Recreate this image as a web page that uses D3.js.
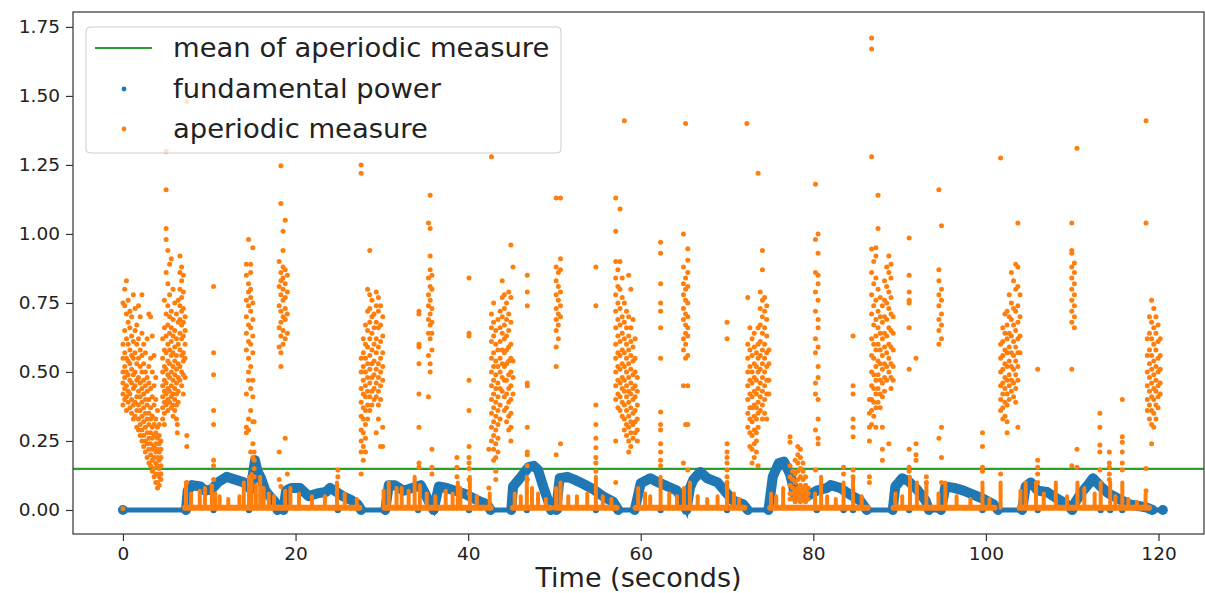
<!DOCTYPE html>
<html>
<head>
<meta charset="utf-8">
<script src="https://cdn.jsdelivr.net/npm/d3@7"></script>
<style>
  body { margin: 0; background: #fff; }
  svg { display: block; font-family: "DejaVu Sans", sans-serif; }
</style>
</head>
<body>
<div id="chart"></div>
<script>
// axis ticks
const xTicks = [0, 20, 40, 60, 80, 100, 120];
const yTicks = [0, 0.25, 0.5, 0.75, 1.0, 1.25, 1.5, 1.75];

// mean of aperiodic measure (green line)
const meanAperiodic = 0.149;

// fundamental power (seconds, value)
const blueT = [0, 7.3, 7.5, 8.0, 9.0, 9.5, 10.3, 11.0, 12.0, 13.0, 14.0, 14.8, 15.3, 15.6, 16.0, 16.5, 17.0, 17.6, 17.9, 18.6,
  18.9, 19.5, 20.5, 21.5, 22.5, 23.5, 24.0, 24.5, 25.5, 26.5, 27.2, 27.6, 30.4, 30.8, 31.5, 32.5, 33.5, 34.5, 35.0, 35.6,
  36.0, 36.6, 37.5, 38.5, 39.5, 41.0, 42.2, 42.6, 45.0, 45.2, 46.0, 47.0, 47.6, 48.1, 48.7, 49.3, 49.6, 50.2, 50.6, 51.5,
  52.3, 53.3, 54.5, 55.7, 56.8, 57.4, 59.3, 60.0, 61.1, 62.0, 63.0, 64.2, 64.9, 65.3, 65.7, 66.1, 66.9, 67.7, 68.9, 69.7,
  70.7, 71.9, 72.4, 74.8, 75.3, 76.0, 76.6, 77.3, 77.9, 79.0, 80.4, 81.6, 82.0, 83.1, 84.3, 85.4, 86.2, 89.2, 89.5, 90.3,
  91.0, 92.0, 93.0, 93.4, 94.8, 95.3, 96.3, 97.4, 98.6, 99.7, 100.9, 101.4, 104.2, 104.6, 105.2, 106.0, 107.1, 108.3, 109.4, 110.0,
  110.4, 111.0, 111.8, 112.4, 113.3, 114.2, 115.4, 116.7, 118.5, 119.3, 120.5];
const blueV = [0, 0, 0.07, 0.09, 0.085, 0.07, 0.075, 0.10, 0.12, 0.11, 0.10, 0.075, 0.18, 0.14, 0.115, 0.07, 0.05, 0.03, 0, 0,
  0.07, 0.08, 0.08, 0.05, 0.06, 0.065, 0.08, 0.07, 0.05, 0.035, 0.02, 0, 0, 0.09, 0.09, 0.07, 0.08, 0.09, 0.06, 0.02,
  0, 0.085, 0.08, 0.07, 0.06, 0.036, 0.02, 0, 0, 0.085, 0.115, 0.155, 0.16, 0.145, 0.085, 0.03, 0, 0, 0.115, 0.12,
  0.11, 0.095, 0.075, 0.048, 0.03, 0, 0, 0.097, 0.115, 0.10, 0.087, 0.07, 0.03, 0, 0.08, 0.11, 0.138, 0.115, 0.10, 0.07,
  0.035, 0.02, 0, 0, 0.12, 0.17, 0.175, 0.13, 0.055, 0.045, 0.07, 0.08, 0.09, 0.08, 0.055, 0.035, 0, 0, 0.085, 0.115,
  0.105, 0.075, 0.035, 0, 0, 0.085, 0.08, 0.07, 0.055, 0.04, 0.02, 0, 0, 0.085, 0.10, 0.07, 0.065, 0.04, 0.02, 0,
  0.03, 0.06, 0.09, 0.115, 0.085, 0.06, 0.04, 0.02, 0.01, 0, 0];

// single samples where fundamental power drops to zero
const blueDropT = [10.5, 14.6, 18.3, 24.9, 34.2, 35.9, 40.1, 46.8, 50.5, 54.8, 62.3, 70.0, 80.4, 83.5,
  84.6, 91.1, 94.7, 99.6, 106.0, 110.1, 113.3, 114.4, 115.8];

// aperiodic measure: near-zero floor where a fundamental exists (start, end)
const orangeFloorV = 0.008;
const orangeFloorSegs = [[7.2, 27.4], [30.3, 42.6], [45.2, 49.5], [50.1, 57.2], [59.4, 72.0],
  [75.0, 86.3], [89.3, 101.0], [103.9, 118.9]];

// short spikes rising from the floor (seconds, top value)
const combT = [7.3, 7.9, 8.9, 9.5, 10.3, 10.7, 11.2, 12.2, 13.5, 14.0, 14.6, 14.9, 15.4, 15.9, 16.3, 16.9, 17.5, 18.8,
  19.4, 20.4, 21.9, 23.4, 24.8, 25.7, 27.1, 30.2, 30.8, 31.7, 32.3, 33.1, 33.8, 34.4, 35.2, 36.2, 37.4, 38.2, 38.8,
  39.1, 40.2, 41.0, 42.5, 45.4, 46.1, 46.8, 47.4, 48.1, 49.0, 50.2, 50.7, 51.6, 52.6, 53.8, 54.8, 55.6, 56.6, 59.7,
  60.5, 61.1, 62.3, 63.3, 64.2, 65.0, 65.7, 66.6, 67.7, 68.9, 70.0, 70.8, 71.4, 75.1, 75.7, 76.5, 80.2, 80.9, 81.6,
  82.6, 83.5, 84.6, 85.6, 89.5, 90.3, 91.2, 92.0, 93.1, 94.5, 95.3, 96.6, 98.2, 99.6, 100.4, 101.7, 104.0, 104.6,
  105.8, 106.7, 108.1, 109.4, 110.6, 111.4, 112.6, 113.3, 114.4, 115.0, 115.8, 116.5, 117.5, 118.5];
const combV = [0.10, 0.06, 0.07, 0.08, 0.09, 0.06, 0.05, 0.04, 0.05, 0.10, 0.12, 0.13, 0.09, 0.12, 0.08, 0.06, 0.05, 0.07,
  0.08, 0.06, 0.05, 0.05, 0.10, 0.06, 0.04, 0.07, 0.10, 0.08, 0.08, 0.07, 0.12, 0.09, 0.06, 0.05, 0.07, 0.06, 0.10,
  0.08, 0.12, 0.05, 0.06, 0.06, 0.05, 0.12, 0.08, 0.06, 0.04, 0.08, 0.10, 0.05, 0.05, 0.06, 0.12, 0.05, 0.04, 0.08,
  0.06, 0.05, 0.12, 0.06, 0.05, 0.08, 0.10, 0.05, 0.04, 0.05, 0.10, 0.06, 0.04, 0.06, 0.05, 0.08, 0.06, 0.12, 0.05,
  0.04, 0.10, 0.12, 0.05, 0.06, 0.05, 0.12, 0.10, 0.10, 0.06, 0.10, 0.05, 0.04, 0.10, 0.04, 0.10, 0.07, 0.10,
  0.10, 0.06, 0.10, 0.05, 0.10, 0.08, 0.06, 0.10, 0.10, 0.05, 0.10, 0.04, 0.03, 0.06];

// aperiodic measure clusters: [seconds, values at that time]
const orangeCols = [
  [0.0, [0.50, 0.46, 0.42, 0.55, 0.60, 0.38, 0.75, 0.005]],
  [0.2, [0.80, 0.74, 0.65, 0.57, 0.52, 0.48, 0.44, 0.40]],
  [0.4, [0.83, 0.71, 0.62, 0.55, 0.50, 0.45, 0.41, 0.36]],
  [0.6, [0.76, 0.68, 0.60, 0.54, 0.49, 0.43, 0.39]],
  [0.8, [0.72, 0.66, 0.58, 0.53, 0.47, 0.42, 0.37]],
  [1.0, [0.70, 0.63, 0.56, 0.51, 0.46, 0.40, 0.35]],
  [1.2, [0.78, 0.61, 0.55, 0.49, 0.44, 0.38, 0.33]],
  [1.4, [0.73, 0.65, 0.57, 0.50, 0.45, 0.39, 0.34]],
  [1.6, [0.67, 0.60, 0.53, 0.47, 0.41, 0.36, 0.30]],
  [1.8, [0.74, 0.62, 0.55, 0.48, 0.43, 0.38, 0.33, 0.29]],
  [2.0, [0.70, 0.58, 0.52, 0.46, 0.41, 0.36, 0.31, 0.27]],
  [2.2, [0.78, 0.64, 0.56, 0.50, 0.44, 0.39, 0.34, 0.29, 0.25]],
  [2.4, [0.60, 0.53, 0.47, 0.42, 0.37, 0.32, 0.27, 0.23]],
  [2.6, [0.57, 0.50, 0.45, 0.40, 0.35, 0.30, 0.25, 0.21]],
  [2.8, [0.62, 0.48, 0.43, 0.38, 0.33, 0.28, 0.24, 0.19]],
  [3.0, [0.71, 0.52, 0.46, 0.40, 0.35, 0.31, 0.26, 0.22, 0.17]],
  [3.2, [0.70, 0.55, 0.44, 0.37, 0.33, 0.28, 0.24, 0.20, 0.16]],
  [3.4, [0.63, 0.50, 0.41, 0.34, 0.30, 0.26, 0.22, 0.18, 0.14]],
  [3.6, [0.56, 0.45, 0.38, 0.31, 0.27, 0.23, 0.19, 0.15, 0.12]],
  [3.8, [0.48, 0.40, 0.33, 0.28, 0.24, 0.21, 0.17, 0.13, 0.10]],
  [4.0, [0.36, 0.30, 0.26, 0.22, 0.19, 0.16, 0.13, 0.10, 0.08]],
  [4.2, [0.31, 0.27, 0.24, 0.21, 0.18, 0.15, 0.12, 0.09]],
  [4.4, [0.25, 0.22, 0.19, 0.16, 0.13, 0.11]],
  [4.6, [0.62, 0.55, 0.50, 0.45, 0.41, 0.37, 0.33]],
  [4.8, [0.76, 0.66, 0.58, 0.52, 0.47, 0.43, 0.39, 0.35, 0.31]],
  [5.0, [1.30, 1.16, 1.02, 0.98, 0.86, 0.71, 0.63, 0.57, 0.51, 0.46, 0.42, 0.38]],
  [5.2, [0.94, 0.82, 0.74, 0.67, 0.60, 0.54, 0.49, 0.44, 0.40, 0.36]],
  [5.4, [0.89, 0.78, 0.70, 0.64, 0.58, 0.53, 0.48, 0.43, 0.39]],
  [5.6, [0.91, 0.72, 0.66, 0.61, 0.56, 0.50, 0.45, 0.41, 0.37]],
  [5.8, [0.80, 0.69, 0.63, 0.57, 0.52, 0.47, 0.42, 0.38, 0.34]],
  [6.0, [0.75, 0.65, 0.59, 0.54, 0.49, 0.44, 0.40, 0.36]],
  [6.2, [0.71, 0.62, 0.56, 0.51, 0.46, 0.42, 0.38, 0.33]],
  [6.3, [0.31, 0.28]],
  [6.4, [0.76, 0.68, 0.60, 0.53, 0.48, 0.43, 0.39]],
  [6.6, [0.92, 0.86, 0.80, 0.74, 0.69, 0.64, 0.58, 0.52, 0.47]],
  [6.8, [0.88, 0.83, 0.77, 0.72, 0.67, 0.62, 0.56, 0.50, 0.45]],
  [7.0, [0.85, 0.79, 0.73, 0.68, 0.63, 0.57, 0.54, 0.49, 0.42]],
  [7.2, [0.70, 0.65, 0.60, 0.55, 0.48]],
  [7.4, [1.48, 0.27, 0.23, 0.10]],
  [10.5, [0.81, 0.57, 0.49, 0.36, 0.31, 0.18, 0.16, 0.11]],
  [14.3, [0.89, 0.85, 0.76, 0.70, 0.64, 0.58, 0.42, 0.30, 0.28]],
  [14.55, [0.98, 0.82, 0.79, 0.74, 0.67, 0.61, 0.55, 0.50, 0.47, 0.33, 0.29]],
  [14.8, [0.89, 0.86, 0.80, 0.77, 0.72, 0.66, 0.60, 0.52, 0.44, 0.36, 0.21]],
  [15.05, [0.95, 0.75, 0.69, 0.63, 0.57, 0.47, 0.41, 0.32, 0.24, 0.19]],
  [15.2, [0.32, 0.21, 0.18, 0.15, 0.12]],
  [18.1, [0.90, 0.81, 0.74, 0.66, 0.59, 0.21, 0.11]],
  [18.3, [1.247, 1.11, 0.86, 0.83, 0.78, 0.72, 0.68, 0.63, 0.57, 0.52, 0.085]],
  [18.55, [1.01, 0.94, 0.88, 0.84, 0.80, 0.76, 0.70, 0.65, 0.60]],
  [18.8, [1.05, 0.87, 0.82, 0.77, 0.73, 0.69, 0.62, 0.26]],
  [19.05, [0.85, 0.79, 0.71, 0.64, 0.13]],
  [24.9, [0.145, 0.12]],
  [27.6, [1.25, 1.22, 0.55, 0.50, 0.44, 0.39, 0.34, 0.29, 0.25, 0.21, 0.13]],
  [27.85, [0.62, 0.57, 0.52, 0.47, 0.42, 0.37, 0.33, 0.28, 0.23, 0.18]],
  [28.1, [0.67, 0.60, 0.55, 0.50, 0.45, 0.41, 0.36, 0.31, 0.26, 0.21]],
  [28.35, [0.80, 0.72, 0.65, 0.59, 0.53, 0.48, 0.43, 0.38, 0.33]],
  [28.6, [0.94, 0.78, 0.73, 0.68, 0.62, 0.56, 0.51, 0.46, 0.41, 0.36]],
  [28.85, [0.76, 0.70, 0.64, 0.58, 0.53, 0.48, 0.43, 0.38]],
  [29.1, [0.71, 0.66, 0.60, 0.54, 0.49, 0.44, 0.40]],
  [29.35, [0.79, 0.74, 0.68, 0.62, 0.57, 0.51, 0.46, 0.41, 0.28]],
  [29.6, [0.77, 0.72, 0.66, 0.59, 0.53, 0.48, 0.43, 0.38, 0.33]],
  [29.85, [0.74, 0.67, 0.61, 0.55, 0.50, 0.45, 0.40, 0.23]],
  [30.1, [0.70, 0.63, 0.57, 0.52, 0.47, 0.30, 0.23]],
  [34.3, [0.72, 0.71, 0.60, 0.59, 0.53, 0.42, 0.30, 0.17, 0.155]],
  [35.4, [1.04, 0.84, 0.78, 0.74, 0.69, 0.64, 0.56, 0.41]],
  [35.6, [1.14, 1.02, 0.92, 0.87, 0.81, 0.76, 0.71, 0.67, 0.62, 0.53, 0.50]],
  [35.8, [0.85, 0.80, 0.73, 0.68, 0.64, 0.58, 0.22, 0.155, 0.13]],
  [38.7, [0.19, 0.155, 0.12]],
  [40.1, [0.84, 0.64, 0.63, 0.47, 0.36, 0.23, 0.19, 0.17, 0.15, 0.11, 0.06]],
  [42.4, [0.22, 0.08]],
  [42.7, [1.28, 0.71, 0.66, 0.61, 0.55, 0.50, 0.45, 0.40, 0.35, 0.30, 0.25]],
  [42.95, [0.75, 0.68, 0.63, 0.57, 0.52, 0.47, 0.42, 0.37, 0.32, 0.27, 0.22, 0.18]],
  [43.2, [0.65, 0.60, 0.54, 0.49, 0.44, 0.39, 0.34, 0.29, 0.24, 0.19, 0.14, 0.11]],
  [43.45, [0.69, 0.58, 0.52, 0.46, 0.41, 0.36, 0.31, 0.26, 0.21]],
  [43.7, [0.72, 0.66, 0.61, 0.55, 0.50, 0.44, 0.38, 0.33]],
  [43.95, [0.83, 0.77, 0.70, 0.64, 0.58, 0.53, 0.48, 0.43]],
  [44.2, [0.78, 0.73, 0.67, 0.62, 0.57, 0.52, 0.47, 0.41, 0.36]],
  [44.45, [0.75, 0.69, 0.63, 0.58, 0.53, 0.47, 0.42, 0.37, 0.32]],
  [44.7, [0.79, 0.71, 0.65, 0.59, 0.54, 0.49, 0.44, 0.39, 0.34, 0.29]],
  [44.95, [0.96, 0.77, 0.68, 0.60, 0.55, 0.50, 0.45, 0.40, 0.35, 0.30, 0.25]],
  [45.2, [0.88, 0.54, 0.48, 0.42]],
  [46.85, [0.85, 0.79, 0.74, 0.46, 0.45, 0.30, 0.21, 0.20, 0.16, 0.11]],
  [50.2, [1.13, 0.88, 0.83, 0.78, 0.73, 0.69, 0.65, 0.59, 0.52, 0.20]],
  [50.45, [0.86, 0.81, 0.76, 0.71, 0.67, 0.62]],
  [50.7, [1.13, 0.91, 0.87, 0.79, 0.74, 0.70, 0.24]],
  [54.8, [0.88, 0.74, 0.38, 0.31, 0.26, 0.225, 0.19, 0.17, 0.14]],
  [57.1, [1.13, 1.01, 0.90, 0.84, 0.78, 0.72, 0.66, 0.60, 0.55, 0.50, 0.45, 0.40, 0.25, 0.10]],
  [57.35, [0.87, 0.81, 0.75, 0.69, 0.63, 0.57, 0.52, 0.47, 0.42, 0.37]],
  [57.6, [1.09, 0.90, 0.80, 0.73, 0.67, 0.61, 0.56, 0.51, 0.46, 0.41, 0.36]],
  [57.85, [0.84, 0.77, 0.70, 0.64, 0.58, 0.53, 0.48, 0.44, 0.39, 0.34]],
  [58.1, [1.41, 0.75, 0.68, 0.62, 0.57, 0.52, 0.47, 0.43, 0.38, 0.33, 0.29]],
  [58.35, [0.72, 0.66, 0.60, 0.55, 0.50, 0.45, 0.41, 0.36, 0.31, 0.27]],
  [58.6, [0.85, 0.70, 0.63, 0.58, 0.53, 0.48, 0.43, 0.39, 0.34, 0.30, 0.25, 0.21]],
  [58.85, [0.80, 0.66, 0.61, 0.56, 0.51, 0.46, 0.42, 0.37, 0.32, 0.28, 0.23]],
  [59.1, [0.69, 0.59, 0.54, 0.49, 0.44, 0.40, 0.35, 0.31, 0.26]],
  [59.35, [0.62, 0.55, 0.50, 0.45, 0.41, 0.36, 0.32, 0.28]],
  [59.6, [0.48, 0.43, 0.38, 0.33, 0.29, 0.25]],
  [62.3, [0.97, 0.93, 0.82, 0.75, 0.72, 0.66, 0.55, 0.355, 0.31, 0.29, 0.24, 0.21, 0.18, 0.16]],
  [64.95, [1.00, 0.88, 0.82, 0.78, 0.73, 0.69, 0.62, 0.58, 0.45, 0.17]],
  [65.2, [1.40, 0.84, 0.80, 0.76, 0.71, 0.67, 0.64, 0.60, 0.55, 0.31]],
  [65.45, [0.946, 0.905, 0.86, 0.81, 0.75, 0.70, 0.66, 0.63, 0.56, 0.45, 0.31, 0.145]],
  [70.0, [0.68, 0.62, 0.24, 0.21, 0.19, 0.17, 0.145, 0.12, 0.10, 0.08]],
  [72.3, [1.40]],
  [72.4, [0.77, 0.60, 0.55, 0.50, 0.45, 0.40, 0.35, 0.30]],
  [72.65, [0.66, 0.58, 0.52, 0.47, 0.42, 0.37, 0.33, 0.28, 0.23]],
  [72.9, [0.62, 0.56, 0.50, 0.46, 0.41, 0.37, 0.32, 0.27, 0.22, 0.17]],
  [73.15, [0.64, 0.59, 0.53, 0.48, 0.43, 0.38, 0.34, 0.29, 0.24, 0.19]],
  [73.4, [0.57, 0.52, 0.47, 0.42, 0.37, 0.33, 0.28, 0.25, 0.21]],
  [73.6, [1.22, 0.66, 0.60, 0.55, 0.50, 0.44, 0.39, 0.35, 0.30, 0.16]],
  [73.85, [0.79, 0.73, 0.67, 0.61, 0.56, 0.51, 0.46, 0.41, 0.36]],
  [74.1, [0.94, 0.87, 0.76, 0.70, 0.64, 0.58, 0.53, 0.48, 0.43, 0.38, 0.33]],
  [74.35, [0.77, 0.72, 0.66, 0.60, 0.55, 0.50, 0.45, 0.40, 0.35]],
  [74.6, [0.74, 0.69, 0.63, 0.57, 0.52, 0.47, 0.42, 0.33]],
  [74.85, [0.58, 0.53, 0.47, 0.42]],
  [77.3, [0.265, 0.245, 0.16, 0.12, 0.09, 0.06, 0.04]],
  [77.6, [0.14, 0.11, 0.08, 0.06, 0.04]],
  [77.9, [0.18, 0.13, 0.10, 0.07, 0.05, 0.03]],
  [78.2, [0.23, 0.20, 0.17, 0.14, 0.11, 0.08, 0.06, 0.04]],
  [78.5, [0.22, 0.19, 0.15, 0.12, 0.09, 0.07, 0.05, 0.03]],
  [78.8, [0.17, 0.14, 0.11, 0.08, 0.06, 0.04]],
  [79.1, [0.12, 0.09, 0.07, 0.05, 0.03]],
  [79.4, [0.08, 0.06, 0.04]],
  [80.25, [1.18, 0.98, 0.86, 0.79, 0.72, 0.62, 0.57, 0.46, 0.42, 0.29, 0.145]],
  [80.55, [1.00, 0.93, 0.85, 0.82, 0.76, 0.69, 0.66, 0.59, 0.52, 0.48, 0.40, 0.33, 0.26, 0.24]],
  [83.5, [0.155, 0.13]],
  [84.6, [0.63, 0.45, 0.42, 0.33, 0.30, 0.265, 0.145, 0.12]],
  [86.5, [0.40, 0.35, 0.30, 0.25, 0.12, 0.10]],
  [86.75, [1.71, 1.67, 1.28, 0.945, 0.86, 0.78, 0.71, 0.62, 0.56, 0.50, 0.45, 0.40, 0.36, 0.31]],
  [87.0, [0.90, 0.82, 0.74, 0.67, 0.60, 0.55, 0.49, 0.44, 0.39, 0.34]],
  [87.25, [0.95, 0.92, 0.84, 0.76, 0.69, 0.63, 0.58, 0.52, 0.47, 0.42, 0.37, 0.30]],
  [87.5, [1.14, 1.02, 0.80, 0.72, 0.66, 0.60, 0.54, 0.49, 0.44, 0.39]],
  [87.75, [0.77, 0.70, 0.64, 0.58, 0.53, 0.47, 0.42, 0.37]],
  [88.0, [0.74, 0.68, 0.62, 0.56, 0.51, 0.46, 0.41, 0.30, 0.22, 0.18]],
  [88.25, [0.83, 0.76, 0.70, 0.64, 0.59, 0.53, 0.48, 0.43]],
  [88.5, [0.88, 0.81, 0.75, 0.69, 0.63, 0.57, 0.52, 0.47]],
  [88.75, [0.92, 0.86, 0.79, 0.73, 0.66, 0.60, 0.55, 0.50, 0.24]],
  [89.0, [0.89, 0.84, 0.77, 0.71, 0.65, 0.59, 0.53, 0.48, 0.44]],
  [89.25, [0.70, 0.64, 0.58, 0.52, 0.47]],
  [91.1, [0.985, 0.85, 0.79, 0.76, 0.75, 0.66, 0.51, 0.22, 0.155, 0.14]],
  [91.9, [0.55, 0.24, 0.20, 0.18]],
  [93.1, [0.12, 0.10]],
  [94.55, [1.16, 0.87, 0.83, 0.78, 0.74, 0.69, 0.65, 0.60, 0.26]],
  [94.85, [1.03, 0.80, 0.76, 0.71, 0.67, 0.62, 0.30, 0.19, 0.10]],
  [99.6, [0.28, 0.23, 0.155, 0.14]],
  [101.7, [1.275, 0.60, 0.55, 0.50, 0.45, 0.40, 0.36, 0.13]],
  [101.95, [0.66, 0.61, 0.56, 0.51, 0.46, 0.42, 0.37, 0.33]],
  [102.2, [0.71, 0.64, 0.58, 0.53, 0.48, 0.44, 0.39, 0.34]],
  [102.45, [0.72, 0.67, 0.62, 0.57, 0.52, 0.47, 0.42, 0.38, 0.32, 0.28]],
  [102.7, [0.78, 0.70, 0.64, 0.59, 0.54, 0.49, 0.45, 0.40]],
  [102.95, [0.86, 0.75, 0.69, 0.63, 0.57, 0.52, 0.47, 0.43]],
  [103.2, [0.83, 0.73, 0.67, 0.61, 0.56, 0.51, 0.46, 0.41]],
  [103.45, [0.89, 0.80, 0.72, 0.65, 0.59, 0.54, 0.49, 0.44, 0.39]],
  [103.7, [1.04, 0.88, 0.81, 0.74, 0.68, 0.62, 0.57, 0.52, 0.47, 0.30]],
  [103.95, [0.78, 0.70, 0.63, 0.57]],
  [106.0, [0.51, 0.18, 0.155, 0.13, 0.10]],
  [109.95, [1.04, 0.94, 0.93, 0.88, 0.84, 0.80, 0.76, 0.72, 0.68, 0.51, 0.16]],
  [110.25, [0.895, 0.86, 0.82, 0.78, 0.74, 0.70, 0.66]],
  [110.55, [1.31, 0.22, 0.155]],
  [113.2, [0.35, 0.30, 0.235, 0.21, 0.145]],
  [114.3, [0.21, 0.17, 0.155, 0.13, 0.11]],
  [115.8, [0.40, 0.265, 0.245, 0.21, 0.17, 0.145]],
  [118.55, [1.41, 1.04, 0.15, 0.07]],
  [118.7, [0.62, 0.56, 0.50, 0.45, 0.40, 0.36]],
  [118.95, [0.70, 0.64, 0.58, 0.53, 0.48, 0.43, 0.38, 0.33]],
  [119.2, [0.76, 0.68, 0.62, 0.56, 0.51, 0.46, 0.41, 0.36, 0.31, 0.24]],
  [119.45, [0.73, 0.66, 0.60, 0.54, 0.49, 0.44, 0.40, 0.35, 0.30]],
  [119.7, [0.70, 0.64, 0.58, 0.52, 0.47, 0.43, 0.38, 0.33]],
  [119.95, [0.67, 0.61, 0.55, 0.50, 0.45, 0.41, 0.37]],
  [120.2, [0.62, 0.56, 0.51, 0.46, 0.42]],
];

const legendItems = ["mean of aperiodic measure", "fundamental power", "aperiodic measure"];

const blue = "#1f77b4", orange = "#ff7f0e", green = "#2ca02c";
const W = 1205, H = 593;
const plot = { left: 73, right: 1204, top: 12, bottom: 534 };

const svg = d3.select("#chart").append("svg").attr("width", W).attr("height", H);
svg.append("rect").attr("width", W).attr("height", H).attr("fill", "#fff");

const x = d3.scaleLinear().domain([-5.79, 125.27]).range([plot.left, plot.right]);
const y = d3.scaleLinear().domain([-0.087, 1.804]).range([plot.bottom, plot.top]);

svg.append("clipPath").attr("id", "clip")
  .append("rect")
  .attr("x", plot.left).attr("y", plot.top)
  .attr("width", plot.right - plot.left).attr("height", plot.bottom - plot.top);

const g = svg.append("g").attr("clip-path", "url(#clip)");

// green mean line
g.append("line")
  .attr("x1", plot.left).attr("x2", plot.right)
  .attr("y1", y(meanAperiodic)).attr("y2", y(meanAperiodic))
  .attr("stroke", green).attr("stroke-width", 2.2);

// fundamental power: thin trace everywhere, thick band where it is non-zero
const bluePts = blueT.map((t, i) => [t, blueV[i]]);
const blueLine = d3.line().x((d) => x(d[0])).y((d) => y(d[1])).defined((d) => d !== null);

g.append("path")
  .datum(bluePts)
  .attr("fill", "none")
  .attr("stroke", blue)
  .attr("stroke-width", 5)
  .attr("stroke-linecap", "round")
  .attr("d", blueLine);

// break the thick band on runs of zeros
const bandPts = [];
bluePts.forEach((d, i) => {
  bandPts.push(d);
  if (i < bluePts.length - 1 && d[1] === 0 && bluePts[i + 1][1] === 0) bandPts.push(null);
});
g.append("path")
  .datum(bandPts)
  .attr("fill", "none")
  .attr("stroke", blue)
  .attr("stroke-width", 10)
  .attr("stroke-linejoin", "round")
  .attr("stroke-linecap", "round")
  .attr("d", blueLine);

g.selectAll(".blue-drop")
  .data(blueDropT)
  .enter()
  .append("circle")
  .attr("cx", (d) => x(d))
  .attr("cy", y(0))
  .attr("r", 3.2)
  .attr("fill", blue);

// aperiodic measure floor + spikes
g.selectAll(".floor")
  .data(orangeFloorSegs)
  .enter()
  .append("line")
  .attr("x1", (d) => x(d[0])).attr("x2", (d) => x(d[1]))
  .attr("y1", y(orangeFloorV)).attr("y2", y(orangeFloorV))
  .attr("stroke", orange).attr("stroke-width", 6).attr("stroke-linecap", "round");

g.selectAll(".comb")
  .data(combT.map((t, i) => [t, combV[i]]))
  .enter()
  .append("line")
  .attr("x1", (d) => x(d[0])).attr("x2", (d) => x(d[0]))
  .attr("y1", y(orangeFloorV)).attr("y2", (d) => y(d[1]))
  .attr("stroke", orange).attr("stroke-width", 4).attr("stroke-linecap", "round");

const orangePts = orangeCols.flatMap(([t, vals]) => vals.map((v) => [t, v]));
g.selectAll(".orange-dot")
  .data(orangePts)
  .enter()
  .append("circle")
  .attr("cx", (d) => x(d[0]))
  .attr("cy", (d) => y(d[1]))
  .attr("r", 2.5)
  .attr("fill", orange);

// axes
const xAxis = svg.append("g")
  .attr("transform", `translate(0,${plot.bottom})`)
  .call(d3.axisBottom(x).tickValues(xTicks).tickSize(7).tickPadding(6).tickFormat(d3.format("d")));
const yAxis = svg.append("g")
  .attr("transform", `translate(${plot.left},0)`)
  .call(d3.axisLeft(y).tickValues(yTicks).tickSize(7).tickPadding(6).tickFormat(d3.format(".2f")));

[xAxis, yAxis].forEach((a) => {
  a.select(".domain").remove();
  a.selectAll("line").attr("stroke", "#333").attr("stroke-width", 1.2);
  a.selectAll("text").attr("fill", "#222").style("font-size", "18.5px").style("font-family", "DejaVu Sans");
});

// frame
svg.append("rect")
  .attr("x", plot.left).attr("y", plot.top)
  .attr("width", plot.right - plot.left).attr("height", plot.bottom - plot.top)
  .attr("fill", "none").attr("stroke", "#333").attr("stroke-width", 1.2);

svg.append("text")
  .attr("x", (plot.left + plot.right) / 2)
  .attr("y", 587)
  .attr("text-anchor", "middle")
  .style("font-size", "27px")
  .attr("fill", "#222")
  .text("Time (seconds)");

// legend
const legend = svg.append("g").attr("transform", "translate(86,27)");
legend.append("rect")
  .attr("width", 475).attr("height", 126).attr("rx", 4)
  .attr("fill", "#fff").attr("fill-opacity", 0.8)
  .attr("stroke", "#ccc").attr("stroke-width", 1);

const rowY = [21, 62, 102];
legend.append("line")
  .attr("x1", 9).attr("x2", 66).attr("y1", rowY[0]).attr("y2", rowY[0])
  .attr("stroke", green).attr("stroke-width", 2.2);
legend.append("circle").attr("cx", 38).attr("cy", rowY[1]).attr("r", 2.4).attr("fill", blue);
legend.append("circle").attr("cx", 38).attr("cy", rowY[2]).attr("r", 2.4).attr("fill", orange);

legend.selectAll(".lt")
  .data(legendItems)
  .enter()
  .append("text")
  .attr("x", 87)
  .attr("y", (d, i) => rowY[i])
  .attr("dy", "0.32em")
  .style("font-size", "27.4px")
  .attr("fill", "#222")
  .text((d) => d);
</script>
</body>
</html>
